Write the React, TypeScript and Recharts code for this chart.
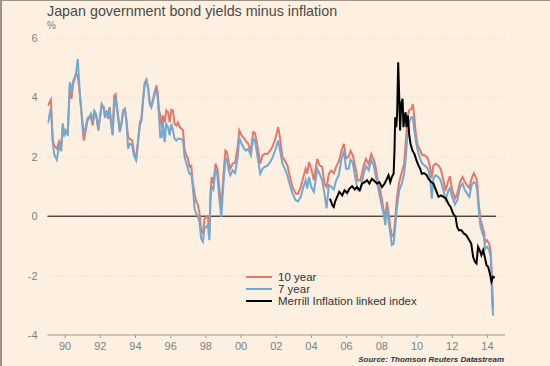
import React from 'react';
import { LineChart, Line, XAxis, YAxis, CartesianGrid, ReferenceLine, Legend } from 'recharts';

const rateDates = [
  1989.02, 1989.19, 1989.30, 1989.38, 1989.53, 1989.66, 1989.78, 1989.87, 1989.95, 1990.04,
  1990.15, 1990.27, 1990.36, 1990.46, 1990.57, 1990.64, 1990.72, 1990.85, 1990.94, 1991.06,
  1991.17, 1991.28, 1991.38, 1991.47, 1991.57, 1991.66, 1991.76, 1991.89, 1991.98, 1992.08,
  1992.19, 1992.27, 1992.36, 1992.45, 1992.53, 1992.60, 1992.70, 1992.79, 1992.87, 1992.98,
  1993.11, 1993.21, 1993.30, 1993.40, 1993.49, 1993.58, 1993.68, 1993.81, 1993.92, 1994.04,
  1994.15, 1994.25, 1994.34, 1994.43, 1994.53, 1994.62, 1994.72, 1994.81, 1994.90, 1995.00,
  1995.09, 1995.19, 1995.26, 1995.34, 1995.41, 1995.49, 1995.56, 1995.66, 1995.75, 1995.85,
  1995.94, 1996.04, 1996.13, 1996.22, 1996.32, 1996.41, 1996.51, 1996.60, 1996.70, 1996.79,
  1996.88, 1996.98, 1997.07, 1997.17, 1997.26, 1997.36, 1997.45, 1997.54, 1997.64, 1997.73,
  1997.83, 1997.92, 1998.02, 1998.11, 1998.20, 1998.26, 1998.33, 1998.43, 1998.55, 1998.66,
  1998.76, 1998.88, 1999.00, 1999.11, 1999.20, 1999.30, 1999.39, 1999.52, 1999.66, 1999.81,
  1999.90, 2000.03, 2000.18, 2000.28, 2000.40, 2000.56, 2000.69, 2000.79, 2000.94, 2001.09,
  2001.22, 2001.35, 2001.50, 2001.65, 2001.80, 2001.97, 2002.11, 2002.22, 2002.35, 2002.48,
  2002.63, 2002.78, 2002.92, 2003.11, 2003.24, 2003.39, 2003.54, 2003.67, 2003.76, 2003.86,
  2003.99, 2004.14, 2004.33, 2004.46, 2004.61, 2004.74, 2004.86, 2004.99, 2005.12, 2005.27,
  2005.40, 2005.56, 2005.70, 2005.84, 2005.97, 2006.12, 2006.22, 2006.35, 2006.50, 2006.63,
  2006.78, 2006.97, 2007.10, 2007.25, 2007.40, 2007.54, 2007.63, 2007.78, 2007.91, 2008.01,
  2008.10, 2008.20, 2008.29, 2008.39, 2008.48, 2008.57, 2008.67, 2008.76, 2008.86, 2008.99,
  2009.14, 2009.27, 2009.38, 2009.46, 2009.55, 2009.67, 2009.76, 2009.85, 2009.93, 2010.04,
  2010.18, 2010.31, 2010.42, 2010.55, 2010.65, 2010.74, 2010.84, 2010.93, 2011.06, 2011.21,
  2011.34, 2011.50, 2011.62, 2011.78, 2011.87, 2012.00, 2012.16, 2012.29, 2012.44, 2012.59,
  2012.72, 2012.85, 2012.97, 2013.10, 2013.23, 2013.34, 2013.42, 2013.49, 2013.61, 2013.72,
  2013.80, 2013.87, 2013.98, 2014.10, 2014.19, 2014.23, 2014.27, 2014.33,
];

const tenYear = [
  3.72, 3.92, 2.55, 2.38, 2.27, 2.52, 2.38, 3.05, 2.77, 2.86,
  2.77, 4.45, 3.95, 4.45, 4.67, 4.79, 4.73, 4.06, 3.39, 2.55,
  2.88, 3.24, 3.31, 3.33, 3.05, 3.50, 3.39, 2.94, 3.33, 3.72,
  3.69, 3.39, 3.50, 3.28, 3.67, 3.22, 2.77, 4.06, 4.11, 3.55,
  2.88, 3.16, 3.55, 3.61, 3.22, 2.66, 2.60, 2.55, 2.16, 1.93,
  2.55, 3.16, 3.28, 3.95, 4.51, 4.59, 4.34, 3.84, 3.69, 3.95,
  4.17, 4.40, 4.17, 3.56, 3.39, 3.00, 3.39, 3.16, 3.56, 3.50,
  3.16, 3.58, 3.56, 3.11, 3.05, 3.16, 3.00, 2.95, 2.89, 2.25,
  2.05, 1.95, 1.66, 1.70, 1.10, 0.76, 0.48, 0.40, 0.09, -0.47,
  -0.58, -0.10, -0.02, -0.02, -0.58, 0.76, 1.32, 1.10, 1.77, 1.60,
  0.98, 0.30, 1.40, 2.21, 2.16, 1.82, 1.60, 1.77, 1.80, 2.33,
  2.89, 2.72, 2.61, 2.52, 2.44, 2.21, 2.83, 2.80, 2.33, 1.77,
  2.05, 2.10, 2.10, 2.21, 2.35, 2.66, 3.00, 2.61, 1.99, 1.88,
  1.71, 1.32, 0.98, 0.76, 0.76, 0.98, 1.32, 1.60, 1.43, 1.82,
  1.60, 1.21, 1.93, 1.71, 1.66, 1.10, 0.98, 1.43, 1.54, 1.45,
  1.66, 1.85, 2.20, 2.44, 1.95, 2.00, 2.20, 2.05, 1.63, 1.21,
  1.20, 1.71, 1.93, 1.75, 2.10, 1.90, 1.71, 1.15, 0.87, 0.54,
  0.20, -0.02, 0.48, 0.09, -0.36, -0.64, -0.69, -0.14, 0.65, 1.15,
  1.49, 1.77, 2.66, 3.33, 3.56, 3.61, 3.78, 3.33, 2.77, 2.38,
  2.21, 2.05, 2.05, 2.00, 1.88, 1.65, 1.30, 1.71, 1.77, 1.71,
  1.60, 1.21, 0.85, 1.20, 1.35, 0.87, 0.60, 0.76, 1.15, 1.32,
  1.15, 1.04, 0.95, 1.26, 1.45, 1.32, 1.15, 0.54, -0.14, -0.36,
  -0.53, -0.90, -0.81, -0.92, -1.20, -1.70, -2.30, -3.10,
];

const sevenYear = [
  3.13, 3.64, 2.49, 2.08, 1.90, 2.38, 2.19, 3.13, 2.68, 2.88,
  2.72, 4.51, 4.17, 4.56, 4.70, 4.90, 5.29, 4.00, 3.45, 2.77,
  3.00, 3.31, 3.35, 3.45, 3.16, 3.55, 3.45, 2.88, 3.33, 3.78,
  3.64, 3.31, 3.55, 3.33, 3.64, 3.20, 2.72, 3.72, 4.00, 3.45,
  2.83, 3.11, 3.55, 3.61, 3.16, 2.27, 2.44, 2.38, 2.04, 1.88,
  2.55, 3.05, 3.22, 3.89, 4.45, 4.59, 4.28, 3.78, 3.67, 3.89,
  4.12, 4.28, 4.00, 3.33, 2.66, 2.66, 3.16, 2.49, 3.11, 3.00,
  2.72, 3.11, 2.89, 2.61, 2.55, 2.61, 2.61, 2.60, 2.55, 2.00,
  1.80, 1.60, 1.43, 1.45, 0.98, 0.25, 0.09, 0.00, -0.20, -0.75,
  -0.86, -0.40, -0.36, -0.30, -0.81, 0.54, 1.00, 0.90, 1.60, 1.35,
  0.60, -0.02, 1.10, 1.90, 1.95, 1.54, 1.38, 1.54, 1.45, 1.99,
  2.64, 2.44, 2.27, 2.21, 2.27, 2.05, 2.61, 2.55, 1.99, 1.43,
  1.60, 1.66, 1.70, 1.82, 1.99, 2.27, 2.55, 2.21, 1.77, 1.60,
  1.38, 1.04, 0.76, 0.54, 0.50, 0.65, 0.98, 1.21, 0.93, 1.32,
  0.98, 0.82, 1.60, 1.43, 1.21, 0.76, 0.26, 1.05, 1.00, 0.90,
  1.20, 1.40, 1.90, 2.20, 1.60, 1.60, 1.90, 1.80, 1.27, 0.87,
  0.87, 1.43, 1.70, 1.55, 1.88, 1.72, 1.43, 0.98, 0.59, 0.31,
  0.09, -0.30, 0.31, -0.19, -0.58, -0.97, -0.92, -0.36, 0.31, 0.87,
  1.10, 1.43, 2.10, 2.77, 3.17, 3.33, 3.33, 2.89, 2.55, 2.21,
  1.93, 1.77, 1.71, 1.65, 1.54, 1.32, 0.59, 1.26, 1.38, 1.32,
  1.21, 0.87, 0.55, 0.85, 0.95, 0.65, 0.40, 0.54, 0.98, 1.10,
  0.87, 0.76, 0.65, 1.04, 1.15, 1.10, 0.87, 0.31, -0.36, -0.58,
  -0.69, -1.10, -1.03, -1.14, -1.37, -2.04, -2.90, -3.35,
];

const merrillDates = [
  2005.05, 2005.12, 2005.20, 2005.27, 2005.35, 2005.46, 2005.58, 2005.75, 2005.88, 2006.03,
  2006.16, 2006.31, 2006.46, 2006.59, 2006.74, 2006.88, 2007.03, 2007.16, 2007.29, 2007.44,
  2007.59, 2007.72, 2007.86, 2008.01, 2008.16, 2008.29, 2008.38, 2008.48, 2008.57, 2008.67,
  2008.72, 2008.76, 2008.82, 2008.87, 2008.93, 2008.99, 2009.04, 2009.10, 2009.18, 2009.23,
  2009.29, 2009.35, 2009.40, 2009.48, 2009.55, 2009.63, 2009.74, 2009.85, 2009.97, 2010.08,
  2010.18, 2010.27, 2010.40, 2010.55, 2010.65, 2010.80, 2010.93, 2011.08, 2011.22, 2011.36,
  2011.50, 2011.65, 2011.78, 2011.91, 2012.05, 2012.19, 2012.28, 2012.38, 2012.52, 2012.66,
  2012.80, 2012.97, 2013.08, 2013.19, 2013.29, 2013.38, 2013.47, 2013.56, 2013.66, 2013.76,
  2013.85, 2013.95, 2014.04, 2014.14, 2014.23, 2014.32, 2014.42,
];

const merrillIndex = [
  0.59, 0.48, 0.35, 0.31, 0.50, 0.65, 0.82, 0.70, 0.87, 0.78,
  0.93, 1.01, 0.90, 0.98, 0.87, 1.10, 1.15, 1.21, 1.10, 1.26,
  1.18, 1.10, 1.15, 0.98, 1.10, 1.26, 1.38, 1.15, 1.32, 1.43,
  2.21, 3.33, 3.00, 3.44, 5.18, 4.00, 2.89, 3.78, 3.95, 3.00,
  3.33, 3.50, 3.00, 3.39, 2.77, 2.44, 2.21, 2.10, 1.88, 1.71,
  1.60, 1.43, 1.45, 1.38, 1.26, 1.15, 1.10, 0.87, 0.65, 0.70,
  0.65, 0.59, 0.42, 0.31, 0.09, -0.02, -0.36, -0.47, -0.47, -0.58,
  -0.64, -0.81, -0.92, -1.37, -1.53, -1.59, -1.03, -1.14, -1.31, -1.14,
  -1.37, -1.65, -1.70, -1.93, -2.20, -2.04, -2.07,
];

const xTicks = [1990, 1992, 1994, 1996, 1998, 2000, 2002, 2004, 2006, 2008, 2010, 2012, 2014];
const xTickLabels = ['90', '92', '94', '96', '98', '00', '02', '04', '06', '08', '10', '12', '14'];
const yTicks = [-4, -2, 0, 2, 4, 6];

const seriesNames = ['10 year', '7 year', 'Merrill Inflation linked index'];
const seriesColors = ['#e2796d', '#72a8d1', '#000000'];

const tenData = rateDates.map((d, i) => ({ date: d, v: tenYear[i] }));
const sevenData = rateDates.map((d, i) => ({ date: d, v: sevenYear[i] }));
const merrillData = merrillDates.map((d, i) => ({ date: d, v: merrillIndex[i] }));

const FONT = '"Liberation Sans", Arial, sans-serif';

const renderLegend = () => (
  <div style={{ fontFamily: FONT, fontSize: 11.5, color: '#333', lineHeight: '12.2px' }}>
    {seriesNames.map((n, i) => (
      <div key={n} style={{ display: 'flex', alignItems: 'center', height: 12.2 }}>
        <div style={{ width: 26, height: 2, background: seriesColors[i], marginRight: 6 }} />
        <span>{n}</span>
      </div>
    ))}
  </div>
);

export default function App() {
  return (
    <div
      style={{
        position: 'absolute',
        left: 0,
        top: 0,
        width: 550,
        height: 366,
        background: '#fdf0e0',
        boxSizing: 'border-box',
        borderTop: '1px solid #9a938b',
        borderLeft: '2px solid #9a938b',
        overflow: 'hidden',
      }}
    >
      <div
        style={{
          position: 'absolute',
          left: 45,
          top: 2,
          fontFamily: FONT,
          fontSize: 14.3,
          lineHeight: '16px',
          color: '#4a4a4a',
          whiteSpace: 'nowrap',
        }}
      >
        Japan government bond yields minus inflation
      </div>
      <div
        style={{
          position: 'absolute',
          left: 45,
          top: 19,
          fontFamily: FONT,
          fontSize: 10,
          lineHeight: '12px',
          color: '#7a7a7a',
        }}
      >
        %
      </div>
      <div
        style={{
          position: 'absolute',
          right: 46,
          top: 354,
          fontFamily: FONT,
          fontSize: 8,
          lineHeight: '10px',
          fontStyle: 'italic',
          fontWeight: 'bold',
          color: '#333',
          whiteSpace: 'nowrap',
        }}
      >
        Source: Thomson Reuters Datastream
      </div>
      <div style={{ position: 'absolute', left: -2, top: -1 }}>
        <LineChart width={550} height={366} margin={{ top: 38, right: 45, bottom: 11, left: 0 }}>
          <CartesianGrid vertical={false} stroke="#e3d6c4" strokeDasharray="1 2" />
          <XAxis
            type="number"
            dataKey="date"
            domain={[1989, 2015]}
            ticks={xTicks}
            allowDataOverflow
            tickFormatter={(v: number) => xTickLabels[xTicks.indexOf(v)]}
            stroke="#9a9a9a"
            tickSize={3}
            tickMargin={4}
            height={20}
            tick={{ fill: '#808080', fontSize: 11, fontFamily: FONT }}
          />
          <YAxis
            type="number"
            domain={[-4, 6]}
            ticks={yTicks}
            axisLine={false}
            tickLine={false}
            tickSize={0}
            tickMargin={10}
            width={47.5}
            tick={{ fill: '#808080', fontSize: 11, fontFamily: FONT }}
          />
          <ReferenceLine
            segment={[{ x: 1989, y: 0 }, { x: 2014.5, y: 0 }]}
            stroke="#000"
            strokeWidth={1}
          />
          <Line data={tenData} dataKey="v" name={seriesNames[0]} stroke={seriesColors[0]} strokeWidth={2} dot={false} isAnimationActive={false} />
          <Line data={sevenData} dataKey="v" name={seriesNames[1]} stroke={seriesColors[1]} strokeWidth={2} dot={false} isAnimationActive={false} />
          <Line data={merrillData} dataKey="v" name={seriesNames[2]} stroke={seriesColors[2]} strokeWidth={2} dot={false} isAnimationActive={false} />
          <Legend
            layout="vertical"
            align="center"
            verticalAlign="middle"
            content={renderLegend}
            wrapperStyle={{ left: 246, top: 271, width: 'auto' }}
          />
        </LineChart>
      </div>
    </div>
  );
}
